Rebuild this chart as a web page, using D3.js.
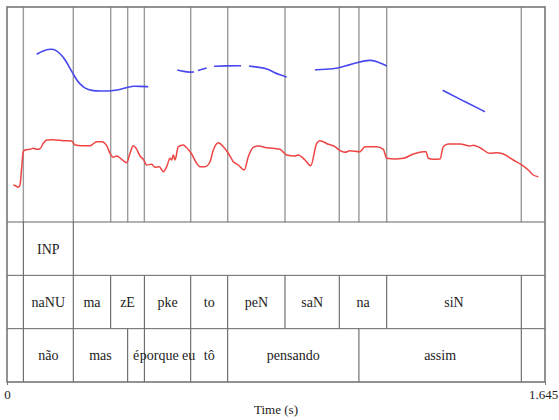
<!DOCTYPE html>
<html>
<head>
<meta charset="utf-8">
<script src="https://cdn.jsdelivr.net/npm/d3@7"></script>
<style>
  body { margin: 0; background: #fff; }
  svg text { font-family: "Liberation Serif", "Times New Roman", "DejaVu Serif", serif !important; }
</style>
</head>
<body>
<svg class="chart"></svg>
<script>
// pitch contour (s, Hz); null = unvoiced gap
const pitchTimes = [0.0908, 0.1070, 0.1345, 0.1498, 0.1673, 0.1804, 0.1926, 0.2027, 0.2131, 0.2232, 0.2385, 0.2590, 0.2844, 0.3201, 0.3455, 0.3669, 0.3862, 0.4067, 0.4320, null,
  0.5207, 0.5412, 0.5595, 0.5718, null,
  0.5840, 0.6106, null,
  0.6329, 0.6665, 0.7155, null,
  0.7399, 0.7644, 0.7941, 0.8143, 0.8347, 0.8552, null,
  0.9417, 0.9723, 1.0130, 1.0436, 1.0741, 1.0946, 1.1099, 1.1353, 1.1610, null,
  1.3322, 1.3943, 1.4615];
const pitchHz = [328.5, 333.5, 337.0, 335.0, 327.4, 318.4, 307.3, 298.7, 289.6, 283.6, 276.8, 273.5, 273.0, 273.0, 275.3, 278.3, 280.6, 279.9, 279.5, null,
  304.8, 302.5, 301.3, 301.7, null,
  304.0, 307.8, null,
  310.4, 311.1, 311.1, null,
  310.8, 309.3, 307.0, 301.7, 297.2, 294.2, null,
  305.1, 305.8, 307.3, 312.3, 316.4, 318.7, 319.9, 317.3, 310.8, null,
  274.1, 258.2, 241.7];

// intensity contour (s, dB)
const intTimes = [0.0193, 0.0275, 0.0346, 0.0397, 0.0443, 0.0498, 0.0550, 0.0703, 0.0804, 0.0908, 0.1009, 0.1110, 0.1214, 0.1416, 0.1721, 0.1978,
  0.2079, 0.2284, 0.2538, 0.2743, 0.2896, 0.3048, 0.3149, 0.3250, 0.3354, 0.3507, 0.3660, 0.3761, 0.3862, 0.3966, 0.4067, 0.4168,
  0.4271, 0.4424, 0.4525, 0.4657, 0.4779, 0.4883, 0.4984, 0.5036, 0.5085, 0.5137, 0.5238, 0.5391, 0.5495, 0.5647, 0.5800, 0.5901,
  0.6054, 0.6207, 0.6308, 0.6461, 0.6614, 0.6767, 0.6920, 0.7072, 0.7256, 0.7378, 0.7531, 0.7684, 0.7941, 0.8347, 0.8552, 0.8806,
  0.8907, 0.9112, 0.9286, 0.9469, 0.9570, 0.9824, 1.0029, 1.0182, 1.0335, 1.0488, 1.0794, 1.0946, 1.1304, 1.1506, 1.1610, 1.1864,
  1.2117, 1.2423, 1.2729, 1.2811, 1.2882, 1.3035, 1.3240, 1.3340, 1.3493, 1.3851, 1.4157, 1.4258, 1.4463, 1.4768, 1.4973, 1.5175,
  1.5481, 1.5738, 1.5939, 1.6092, 1.6245];
const intDb = [48.60, 48.37, 48.07, 48.60, 52.09, 56.35, 56.74, 56.91, 57.14, 56.91, 57.05, 58.30, 59.07, 59.14, 58.91, 58.84,
  57.91, 57.74, 57.74, 58.67, 58.67, 57.74, 55.98, 55.05, 55.35, 54.58, 53.79, 55.98, 57.74, 56.91, 55.35, 54.58,
  53.26, 53.42, 52.72, 52.86, 51.70, 52.86, 54.81, 54.42, 55.58, 54.42, 57.51, 57.91, 57.28, 55.81, 53.65, 52.86,
  52.86, 54.02, 56.74, 58.44, 57.51, 55.98, 54.02, 53.26, 52.09, 55.19, 57.37, 57.67, 57.28, 56.91, 55.58, 55.35,
  55.58, 54.42, 53.09, 58.30, 58.91, 58.07, 57.51, 56.58, 56.21, 56.58, 56.35, 57.51, 57.51, 56.91, 54.81, 54.65,
  54.81, 55.81, 56.35, 56.35, 54.81, 54.58, 54.65, 57.51, 58.14, 58.14, 57.67, 57.84, 57.28, 55.98, 56.12, 55.81,
  54.42, 53.26, 52.09, 50.93, 50.53];

// TextGrid tiers: boundaries (s) and labels
const tier1Bounds = [0, 0.050, 0.2027, 1.645];
const tier1Labels = ["", "INP", ""];
const tier2Bounds = [0, 0.050, 0.2027, 0.317, 0.420, 0.5617, 0.6748, 0.850, 1.016, 1.161, 1.5725, 1.645];
const tier2Labels = ["", "naNU", "ma", "zE", "pke", "to", "peN", "saN", "na", "siN", ""];
const tier3Bounds = [0, 0.050, 0.2027, 0.369, 0.420, 0.5617, 0.6748, 1.076, 1.5725, 1.645];
const tier3Labels = ["", "não", "mas", "é", "porque eu", "tô", "pensando", "assim", ""];

const timeTicks = [0, 1.645];
const tickLabels = ["0", "1.645"];

const serif = "'Liberation Serif', 'Times New Roman', 'DejaVu Serif', serif";
const canvas = {width: 559, height: 420};
const frame = {left: 7, right: 545, top: 7, signalBottom: 222, bottom: 382};
const tierHeight = (frame.bottom - frame.signalBottom) / 3;

const x = d3.scaleLinear().domain([0, 1.645]).range([frame.left, frame.right]);
const yPitch = d3.scaleLinear().domain([75, 400]).range([frame.signalBottom, frame.top]);
const yInt = d3.scaleLinear().domain([40, 90]).range([frame.signalBottom, frame.top]);

const svg = d3.select(".chart")
    .attr("width", canvas.width)
    .attr("height", canvas.height)
    .attr("font-family", serif);

// boundaries running through the signal area (union of tiers 2 and 3)
const inner = Array.from(new Set(tier2Bounds.concat(tier3Bounds)))
    .filter(function (b) { return b > 0 && b < 1.645; });

svg.append("g")
    .selectAll("line")
    .data(inner)
    .enter()
    .append("line")
    .attr("x1", function (d) { return x(d); })
    .attr("x2", function (d) { return x(d); })
    .attr("y1", frame.top)
    .attr("y2", frame.signalBottom)
    .attr("stroke", "#9a9a9a")
    .attr("stroke-width", 1.4);

// intensity
const intPoints = intTimes.map(function (t, i) { return [t, intDb[i]]; });
svg.append("path")
    .datum(intPoints)
    .attr("fill", "none")
    .attr("stroke", "#ee4444")
    .attr("stroke-width", 1.5)
    .attr("d", d3.line()
        .curve(d3.curveMonotoneX)
        .x(function (d) { return x(d[0]); })
        .y(function (d) { return yInt(d[1]); }));

// pitch
const pitchPoints = pitchTimes.map(function (t, i) { return t === null ? null : [t, pitchHz[i]]; });
svg.append("path")
    .datum(pitchPoints)
    .attr("fill", "none")
    .attr("stroke", "#4848ee")
    .attr("stroke-width", 1.6)
    .attr("d", d3.line()
        .defined(function (d) { return d !== null; })
        .curve(d3.curveBasis)
        .x(function (d) { return x(d[0]); })
        .y(function (d) { return yPitch(d[1]); }));

// tiers
function drawTier(bounds, labels, index) {
    const top = frame.signalBottom + index * tierHeight;
    const g = svg.append("g");
    g.selectAll("line")
        .data(bounds.slice(1, -1))
        .enter()
        .append("line")
        .attr("x1", function (d) { return x(d); })
        .attr("x2", function (d) { return x(d); })
        .attr("y1", top)
        .attr("y2", top + tierHeight)
        .attr("stroke", "#555")
        .attr("stroke-width", 1);
    g.selectAll("text")
        .data(labels)
        .enter()
        .append("text")
        .attr("x", function (d, i) { return (x(bounds[i]) + x(bounds[i + 1])) / 2; })
        .attr("y", top + tierHeight / 2)
        .attr("dy", "0.35em")
        .attr("text-anchor", "middle")
        .attr("font-size", 14)
        .attr("fill", "#222")
        .text(function (d) { return d; });
    if (index > 0) {
        g.append("line")
            .attr("x1", frame.left).attr("x2", frame.right)
            .attr("y1", top).attr("y2", top)
            .attr("stroke", "#666")
            .attr("stroke-width", 1);
    }
}

svg.append("line")
    .attr("x1", frame.left).attr("x2", frame.right)
    .attr("y1", frame.signalBottom).attr("y2", frame.signalBottom)
    .attr("stroke", "#666")
    .attr("stroke-width", 1.2);

drawTier(tier1Bounds, tier1Labels, 0);
drawTier(tier2Bounds, tier2Labels, 1);
drawTier(tier3Bounds, tier3Labels, 2);

// outer box
svg.append("rect")
    .attr("x", frame.left)
    .attr("y", frame.top)
    .attr("width", frame.right - frame.left)
    .attr("height", frame.bottom - frame.top)
    .attr("fill", "none")
    .attr("stroke", "#777")
    .attr("stroke-width", 1.6);

// time axis
const xAxis = d3.axisBottom(x)
    .tickValues(timeTicks)
    .tickSize(3)
    .tickFormat(function (d, i) { return tickLabels[i]; });

svg.append("g")
    .attr("transform", "translate(0," + frame.bottom + ")")
    .call(xAxis)
    .attr("font-family", serif)
    .call(function (g) { g.select(".domain").remove(); })
    .call(function (g) {
        g.selectAll("text")
            .attr("font-size", 13)
            .attr("fill", "#222")
            .attr("y", 8)
            .attr("x", function (d, i) { return i === timeTicks.length - 1 ? -2 : 0; });
        g.selectAll("line").attr("stroke", "#777");
    });

svg.append("text")
    .attr("x", (frame.left + frame.right) / 2)
    .attr("y", 414)
    .attr("text-anchor", "middle")
    .attr("font-size", 13)
    .attr("fill", "#222")
    .text("Time (s)");
</script>
</body>
</html>
